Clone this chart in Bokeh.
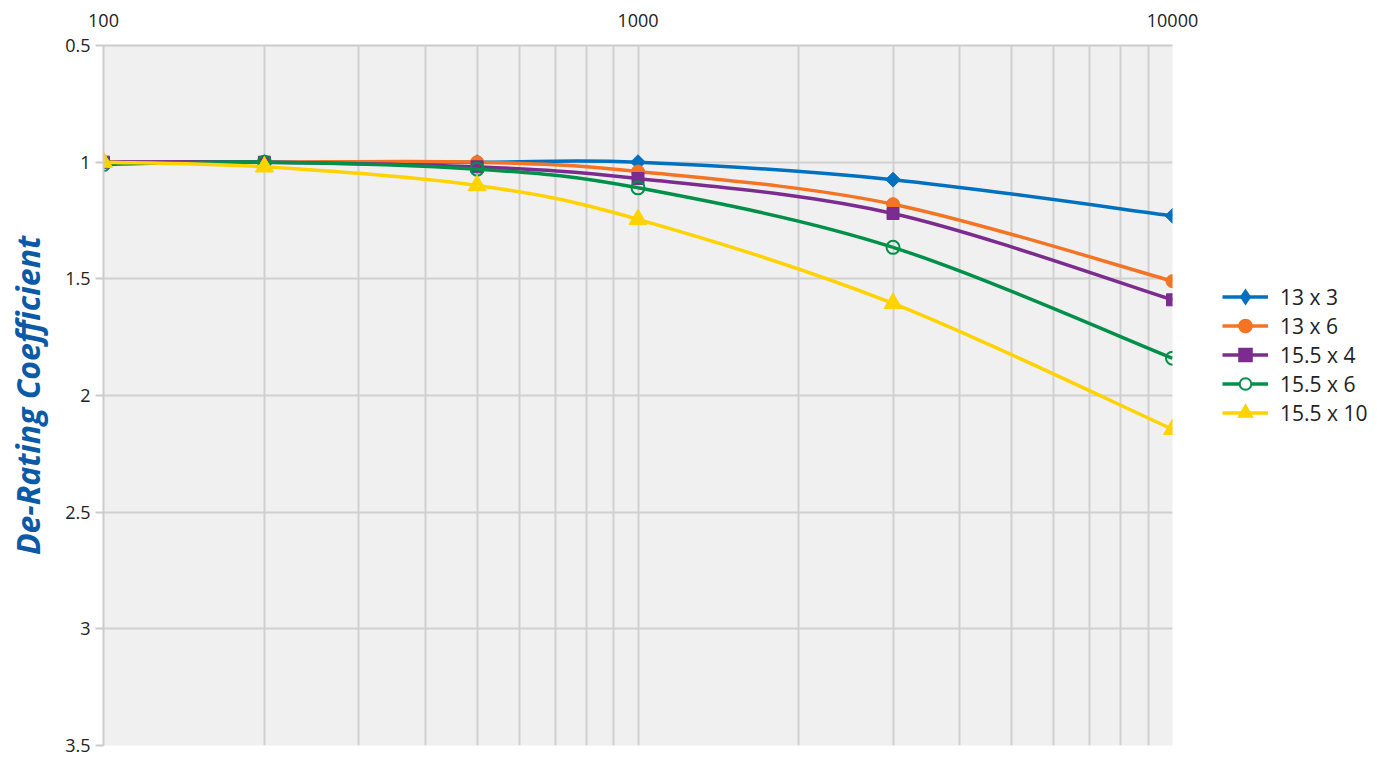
import numpy as np
from bokeh.plotting import figure
from bokeh.layouts import row
from bokeh.models import Range1d, FixedTicker, Legend, LegendItem
from bokeh.embed import file_html
from bokeh.resources import INLINE

# ---- data ----
frequency = [100, 200, 500, 1000, 3000, 10000]
s_13x3 = [1.00, 1.00, 1.00, 1.00, 1.075, 1.23]
s_13x6 = [1.00, 1.00, 1.00, 1.04, 1.18, 1.51]
s_155x4 = [1.00, 1.00, 1.02, 1.07, 1.22, 1.59]
s_155x6 = [1.01, 1.00, 1.03, 1.11, 1.365, 1.84]
s_155x10 = [1.00, 1.02, 1.10, 1.245, 1.605, 2.145]
labels = ["13 x 3", "13 x 6", "15.5 x 4", "15.5 x 6", "15.5 x 10"]
series = [s_13x3, s_13x6, s_155x4, s_155x6, s_155x10]
colors = ["#0070c0", "#f47324", "#7b2c8e", "#00904a", "#ffd200"]
x_ticks = [100, 1000, 10000]
x_minor = [200, 300, 400, 500, 600, 700, 800, 900,
           2000, 3000, 4000, 5000, 6000, 7000, 8000, 9000]
y_ticks = [0.5, 1, 1.5, 2, 2.5, 3, 3.5]
y_tick_labels = ["0.5", "1", "1.5", "2", "2.5", "3", "3.5"]

FONT = "Open Sans"
H = 756

p = figure(width=1200, height=H, output_backend="svg", toolbar_location=None,
           x_axis_type="log", x_axis_location="above",
           x_range=Range1d(100, 10000), y_range=Range1d(3.5, 0.5),
           min_border_left=103, min_border_top=45, min_border_right=28,
           min_border_bottom=11)
p.background_fill_color = "#f0f0f0"
p.border_fill_color = "white"
p.outline_line_color = None

xa = p.xaxis[0]
xa.ticker = FixedTicker(ticks=x_ticks, minor_ticks=x_minor)
xa.major_label_overrides = {t: str(t) for t in x_ticks}
xa.major_tick_out = 0
xa.major_tick_in = 0
xa.minor_tick_out = 0
xa.minor_tick_in = 0
xa.axis_line_color = "#cccccc"
xa.axis_line_width = 2
xa.major_label_text_font = FONT
xa.major_label_text_font_size = "18px"
xa.major_label_text_color = "#222222"
xa.major_label_standoff = 19

ya = p.yaxis[0]
ya.ticker = FixedTicker(ticks=y_ticks)
ya.major_label_overrides = {t: l for t, l in zip(y_ticks, y_tick_labels)}
ya.major_tick_out = 8
ya.major_tick_in = 0
ya.minor_tick_out = 0
ya.major_tick_line_color = "#cccccc"
ya.major_tick_line_width = 2
ya.axis_line_color = "#cccccc"
ya.axis_line_width = 2
ya.major_label_text_font = FONT
ya.major_label_text_font_size = "18px"
ya.major_label_text_color = "#222222"
ya.major_label_standoff = 5
ya.axis_label = "De-Rating Coefficient"
ya.axis_label_text_font = FONT
ya.axis_label_text_font_size = "32px"
ya.axis_label_text_font_style = "bold italic"
ya.axis_label_text_color = "#0b5aa6"
ya.axis_label_standoff = 13

p.xgrid.grid_line_color = "#d0d0d0"
p.xgrid.grid_line_width = 2
p.xgrid.minor_grid_line_color = "#d0d0d0"
p.xgrid.minor_grid_line_width = 2
p.ygrid.grid_line_color = "#d0d0d0"
p.ygrid.grid_line_width = 2


def smooth_controls(xs, ys):
    u = np.log10(np.asarray(xs, dtype=float))
    v = np.asarray(ys, dtype=float)
    up = np.concatenate([[u[0]], u, [u[-1]]])
    vp = np.concatenate([[v[0]], v, [v[-1]]])
    n = len(u)
    i = np.arange(n - 1)
    cx0 = u[i] + (up[i + 2] - up[i]) / 6
    cy0 = v[i] + (vp[i + 2] - vp[i]) / 6
    cx1 = u[i + 1] - (up[i + 3] - up[i + 1]) / 6
    cy1 = v[i + 1] - (vp[i + 3] - vp[i + 1]) / 6
    return (10 ** u[:-1], v[:-1], 10 ** u[1:], v[1:],
            10 ** cx0, cy0, 10 ** cx1, cy1)


plot_markers = [
    dict(marker="square", size=10.5, angle=np.pi / 4),
    dict(marker="circle", size=13),
    dict(marker="square", size=12),
    dict(marker="circle", size=13),
    dict(marker="triangle", size=18),
]
legend_markers = ["diamond", "circle", "square", "circle", "triangle"]

# legend panel: a separate borderless figure to the right of the chart.
# Its renderers carry the same series, but lie outside its (0..1) ranges,
# so only the legend swatches are visible.
p2 = figure(width=190, height=H, output_backend="svg", toolbar_location=None,
            x_axis_type=None, y_axis_type=None,
            x_range=Range1d(0, 1), y_range=Range1d(0, 1),
            min_border=0)
p2.outline_line_color = None
p2.background_fill_color = "white"
p2.border_fill_color = "white"

items = []
for lab, ys, col, mk, lmk in zip(labels, series, colors, plot_markers, legend_markers):
    x0, y0, x1, y1, cx0, cy0, cx1, cy1 = smooth_controls(frequency, ys)
    p.bezier(x0=x0, y0=y0, x1=x1, y1=y1, cx0=cx0, cy0=cy0, cx1=cx1, cy1=cy1,
             line_color=col, line_width=3.5)
    open_marker = lab == "15.5 x 6"
    if open_marker:
        p.scatter(frequency, ys, marker="circle", size=13, fill_alpha=0,
                  line_color=col, line_width=2)
    else:
        p.scatter(frequency, ys, fill_color=col, line_color=col, **mk)
    lr = p2.line(x=frequency, y=ys, line_color=col, line_width=3.5)
    if open_marker:
        mr = p2.scatter(x=frequency, y=ys, marker="circle", fill_color="white",
                        line_color=col, line_width=2)
    else:
        mr = p2.scatter(x=frequency, y=ys, marker=lmk, fill_color=col,
                        line_color=col, line_width=3, line_join="miter")
    items.append(LegendItem(label=lab, renderers=[lr, mr]))

legend = Legend(items=items, location=(22, 318))
legend.glyph_width = 46
legend.glyph_height = 29
legend.label_height = 29
legend.spacing = 0
legend.padding = 0
legend.margin = 0
legend.label_standoff = 12
legend.border_line_color = None
legend.background_fill_alpha = 0
legend.label_text_font = FONT
legend.label_text_font_size = "21px"
legend.label_text_color = "#222222"
p2.add_layout(legend, "center")

layout = row(p, p2, spacing=0)
open("out.html", "w").write(file_html(layout, INLINE))
